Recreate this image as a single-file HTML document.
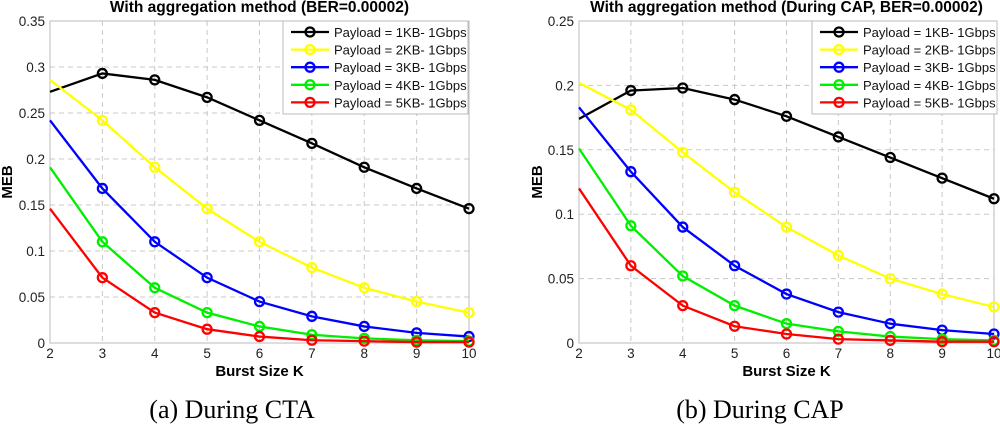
<!DOCTYPE html>
<html><head><meta charset="utf-8"><style>
html,body{margin:0;padding:0;background:#fff;}
svg{display:block;}
text{font-family:"Liberation Sans",Arial,sans-serif;}
</style></head><body>
<svg id="fig" width="1000" height="425" viewBox="0 0 1000 425" xmlns="http://www.w3.org/2000/svg"></svg>
<script>
const categories = [2,3,4,5,6,7,8,9,10];
const seriesNames = ["Payload = 1KB- 1Gbps","Payload = 2KB- 1Gbps","Payload = 3KB- 1Gbps","Payload = 4KB- 1Gbps","Payload = 5KB- 1Gbps"];
const ctaP1 = [0.273,0.293,0.286,0.267,0.242,0.217,0.191,0.168,0.146];
const ctaP2 = [0.286,0.242,0.191,0.146,0.110,0.082,0.060,0.045,0.033];
const ctaP3 = [0.242,0.168,0.110,0.071,0.045,0.029,0.018,0.011,0.007];
const ctaP4 = [0.191,0.110,0.060,0.033,0.018,0.009,0.005,0.003,0.002];
const ctaP5 = [0.146,0.071,0.033,0.015,0.007,0.003,0.002,0.001,0.001];
const capP1 = [0.174,0.196,0.198,0.189,0.176,0.160,0.144,0.128,0.112];
const capP2 = [0.202,0.181,0.148,0.117,0.090,0.068,0.050,0.038,0.028];
const capP3 = [0.183,0.133,0.090,0.060,0.038,0.024,0.015,0.010,0.007];
const capP4 = [0.151,0.091,0.052,0.029,0.015,0.009,0.005,0.003,0.002];
const capP5 = [0.120,0.060,0.029,0.013,0.007,0.003,0.002,0.001,0.001];
const ctaYTicks = ["0","0.05","0.1","0.15","0.2","0.25","0.3","0.35"];
const capYTicks = ["0","0.05","0.1","0.15","0.2","0.25"];
const xTicks = ["2","3","4","5","6","7","8","9","10"];

const NS="http://www.w3.org/2000/svg";
const svg=document.getElementById('fig');
const colors=["#000000","#ffff00","#0000ff","#00ee00","#ff0000"];
function el(tag,attrs,parent){const e=document.createElementNS(NS,tag);for(const k in attrs)e.setAttribute(k,attrs[k]);(parent||svg).appendChild(e);return e;}

function panel(cfg){
  const g=el('g',{});
  
  
  const L=cfg.x0,R=cfg.x1,T=21,B=343;
  const xs=v=>L+(v-2)/8*(R-L);
  const ys=v=>B-v/cfg.ymax*(B-T);
  xTicks.forEach((t,i)=>{const x=xs(+t);
    if(i>0&&i<xTicks.length-1){const gl=el('line',{x1:x,y1:T,x2:x,y2:B,stroke:'#c8c8c8','stroke-dasharray':'5,4','stroke-width':1},g);
    }
    const tx=el('text',{x:x,y:358,'font-size':13.5,'text-anchor':'middle',fill:'#222'},g);tx.textContent=t;
    
  });
  cfg.yticks.forEach((t,i)=>{const y=ys(+t);
    if(i>0&&i<cfg.yticks.length-1){const gl=el('line',{x1:L,y1:y,x2:R,y2:y,stroke:'#c8c8c8','stroke-dasharray':'5,4','stroke-width':1},g);
    }
    const tx=el('text',{x:L-5,y:y+5,'font-size':13.5,'text-anchor':'end',fill:'#222'},g);tx.textContent=t;
    
  });
  const box=el('rect',{x:L,y:T,width:R-L,height:B-T,fill:'none',stroke:'#bbb','stroke-width':1},g);
  
  cfg.series.forEach((vals,si)=>{
    const pts=vals.map((v,i)=>xs(categories[i])+','+ys(v)).join(' ');
    const pl=el('polyline',{points:pts,fill:'none',stroke:colors[si],'stroke-width':2.3},g);
    
    vals.forEach((v,i)=>{if(i===0)return;
      const c=el('circle',{cx:xs(categories[i]),cy:ys(v),r:4.5,fill:'none',stroke:colors[si],'stroke-width':2.3},g);
      });
  });
  const ti=el('text',{x:(L+R)/2,y:12,'font-size':15.5,'font-weight':'bold','text-anchor':'middle',fill:'#000'},g);
  ti.textContent=cfg.title;
  const yl=el('text',{x:0,y:0,'font-size':15,'font-weight':'bold','text-anchor':'middle',fill:'#000',transform:`translate(${cfg.ylx},182) rotate(-90)`},g);
  yl.textContent='MEB';
  const xl=el('text',{x:(L+R)/2,y:376,'font-size':15,'font-weight':'bold','text-anchor':'middle',fill:'#000'},g);
  xl.textContent='Burst Size K';
  const cap=el('text',{x:cfg.capx,y:418,'font-size':26,'text-anchor':'middle',fill:'#000'},g);
  cap.setAttribute('style','font-family:"Liberation Serif",serif');
  cap.textContent=cfg.caption;
  const lg=el('g',{},g);
  el('rect',{x:cfg.lx,y:cfg.ly,width:185,height:93,fill:'#fff',stroke:'#bbb','stroke-width':1},lg);
  seriesNames.forEach((n,si)=>{const y=cfg.ly+11+si*17.6;
    const e=el('g',{},lg);
    el('line',{x1:cfg.lx+8,y1:y,x2:cfg.lx+46,y2:y,stroke:colors[si],'stroke-width':2.3},e);
    el('circle',{cx:cfg.lx+27,cy:y,r:4.5,fill:'none',stroke:colors[si],'stroke-width':2.3},e);
    const t=el('text',{x:cfg.lx+51,y:y+5,'font-size':13,fill:'#111'},e);t.textContent=n;});
}
panel({name:'chart-during-cta',x0:50,x1:469,ymax:0.35,yticks:ctaYTicks,series:[ctaP1,ctaP2,ctaP3,ctaP4,ctaP5],
  title:'With aggregation method (BER=0.00002)',ylx:12,capx:232,caption:'(a) During CTA',lx:283,ly:21});
panel({name:'chart-during-cap',x0:579,x1:994,ymax:0.25,yticks:capYTicks,series:[capP1,capP2,capP3,capP4,capP5],
  title:'With aggregation method (During CAP, BER=0.00002)',ylx:542,capx:760,caption:'(b) During CAP',lx:812,ly:21});
</script>
</body></html>
